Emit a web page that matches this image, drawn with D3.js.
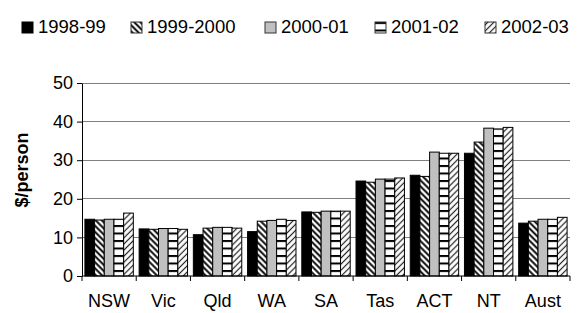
<!DOCTYPE html>
<meta charset="utf-8">
<style>
  body { margin: 0; background: #fff; }
  svg { display: block; font-family: Arial, "Liberation Sans", sans-serif; }
</style>
<script src="https://d3js.org/d3.v7.min.js"></script>
<div id="chart"></div>
<script>
// chart data
const states = ["NSW", "Vic", "Qld", "WA", "SA", "Tas", "ACT", "NT", "Aust"];
const years = ["1998-99", "1999-2000", "2000-01", "2001-02", "2002-03"];
const v1998 = [14.7, 12.2, 10.7, 11.5, 16.6, 24.6, 26.1, 31.8, 13.7];
const v1999 = [14.5, 12.1, 12.4, 14.2, 16.5, 24.3, 25.8, 34.7, 14.2];
const v2000 = [14.7, 12.3, 12.6, 14.4, 16.8, 25.1, 32.1, 38.3, 14.7];
const v2001 = [14.7, 12.3, 12.6, 14.7, 16.8, 25.1, 31.8, 38.1, 14.7];
const v2002 = [16.3, 12.1, 12.4, 14.4, 16.8, 25.4, 31.8, 38.5, 15.2];
const yTicks = [0, 10, 20, 30, 40, 50];
const yTitle = "$/person";

const seriesVals = [v1998, v1999, v2000, v2001, v2002];

const W = 577, H = 313;
const margin = {top: 83, right: 7, bottom: 37, left: 82};

const svg = d3.select("#chart").append("svg")
    .attr("width", W)
    .attr("height", H);

// fill patterns for the series
const defs = svg.append("defs");

function stripes(id, angle, gap, sw, color) {
  const p = defs.append("pattern")
      .attr("id", id)
      .attr("patternUnits", "userSpaceOnUse")
      .attr("width", gap).attr("height", gap)
      .attr("patternTransform", "rotate(" + angle + ")");
  p.append("rect").attr("width", gap).attr("height", gap).attr("fill", "#fff");
  p.append("line")
      .attr("x1", gap / 2).attr("y1", 0)
      .attr("x2", gap / 2).attr("y2", gap)
      .attr("stroke", color).attr("stroke-width", sw);
}
stripes("back", -45, 4.3, 1.9, "#000");
stripes("fwd", 45, 4.3, 1.2, "#222");

const hp = defs.append("pattern")
    .attr("id", "horiz")
    .attr("patternUnits", "userSpaceOnUse")
    .attr("width", 8).attr("height", 7.5);
hp.append("rect").attr("width", 8).attr("height", 7.5).attr("fill", "#fff");
hp.append("rect").attr("y", 0).attr("width", 8).attr("height", 2).attr("fill", "#000");

const fills = ["#000", "url(#back)", "#c0c0c0", "url(#horiz)", "url(#fwd)"];

const g = svg.append("g");

const x = d3.scaleBand()
    .domain(states)
    .range([margin.left, W - margin.right]);

const x1 = d3.scaleBand()
    .domain(years)
    .range([0, x.bandwidth()])
    .paddingOuter(0.3);

const y = d3.scaleLinear()
    .domain([0, 50])
    .range([H - margin.bottom, margin.top]);

// gridlines
g.append("g")
  .selectAll("line")
  .data(yTicks.slice(1))
  .join("line")
    .attr("x1", margin.left).attr("x2", W - margin.right)
    .attr("y1", d => y(d)).attr("y2", d => y(d))
    .attr("stroke", "#808080")
    .attr("stroke-width", 1)
    .attr("shape-rendering", "crispEdges");

// bars
g.append("g")
  .selectAll("g")
  .data(years)
  .join("g")
    .attr("fill", (d, i) => fills[i])
  .selectAll("rect")
  .data((d, i) => states.map((s, j) => ({s, yr: d, v: seriesVals[i][j]})))
  .join("rect")
    .attr("x", d => x(d.s) + x1(d.yr))
    .attr("y", d => y(d.v))
    .attr("width", x1.bandwidth())
    .attr("height", d => y(0) - y(d.v))
    .attr("stroke", "#000")
    .attr("stroke-width", 1);

// y axis
g.append("g")
    .attr("transform", "translate(" + margin.left + ",0)")
    .call(d3.axisLeft(y).tickValues(yTicks).tickSize(5).tickSizeOuter(0).tickPadding(4))
    .call(a => a.select(".domain").attr("stroke", "#000"))
    .call(a => a.selectAll("text").attr("font-size", 18).attr("fill", "#000").attr("font-family", null));

// x axis: ticks between categories
const xa = g.append("g")
    .attr("transform", "translate(0," + y(0) + ")");
xa.append("line")
    .attr("x1", margin.left).attr("x2", W - margin.right)
    .attr("stroke", "#000");
xa.selectAll(".tk")
  .data([null].concat(states))
  .join("line")
    .attr("class", "tk")
    .attr("x1", d => d === null ? margin.left : x(d) + x.bandwidth())
    .attr("x2", d => d === null ? margin.left : x(d) + x.bandwidth())
    .attr("y1", 0).attr("y2", 5)
    .attr("stroke", "#000");
xa.selectAll("text")
  .data(states)
  .join("text")
    .attr("x", d => x(d) + x.bandwidth() / 2)
    .attr("y", 31)
    .attr("text-anchor", "middle")
    .attr("font-size", 18)
    .text(d => d);

// y title
svg.append("text")
    .attr("transform", "translate(28,170) rotate(-90)")
    .attr("text-anchor", "middle")
    .attr("font-size", 18)
    .attr("font-weight", "bold")
    .text(yTitle);

// legend
const legendX = [22, 131, 265, 375, 485];
const leg = svg.append("g").attr("transform", "translate(0,22)");
years.forEach((yr, i) => {
  const it = leg.append("g").attr("transform", "translate(" + legendX[i] + ",0)");
  it.append("rect")
      .attr("width", 11).attr("height", 11)
      .attr("fill", fills[i])
      .attr("stroke", i === 0 ? "#000" : "#333")
      .attr("stroke-width", 1);
  it.append("text")
      .attr("x", 16).attr("y", 11)
      .attr("font-size", 18.5)
      .text(yr);
});
</script>
